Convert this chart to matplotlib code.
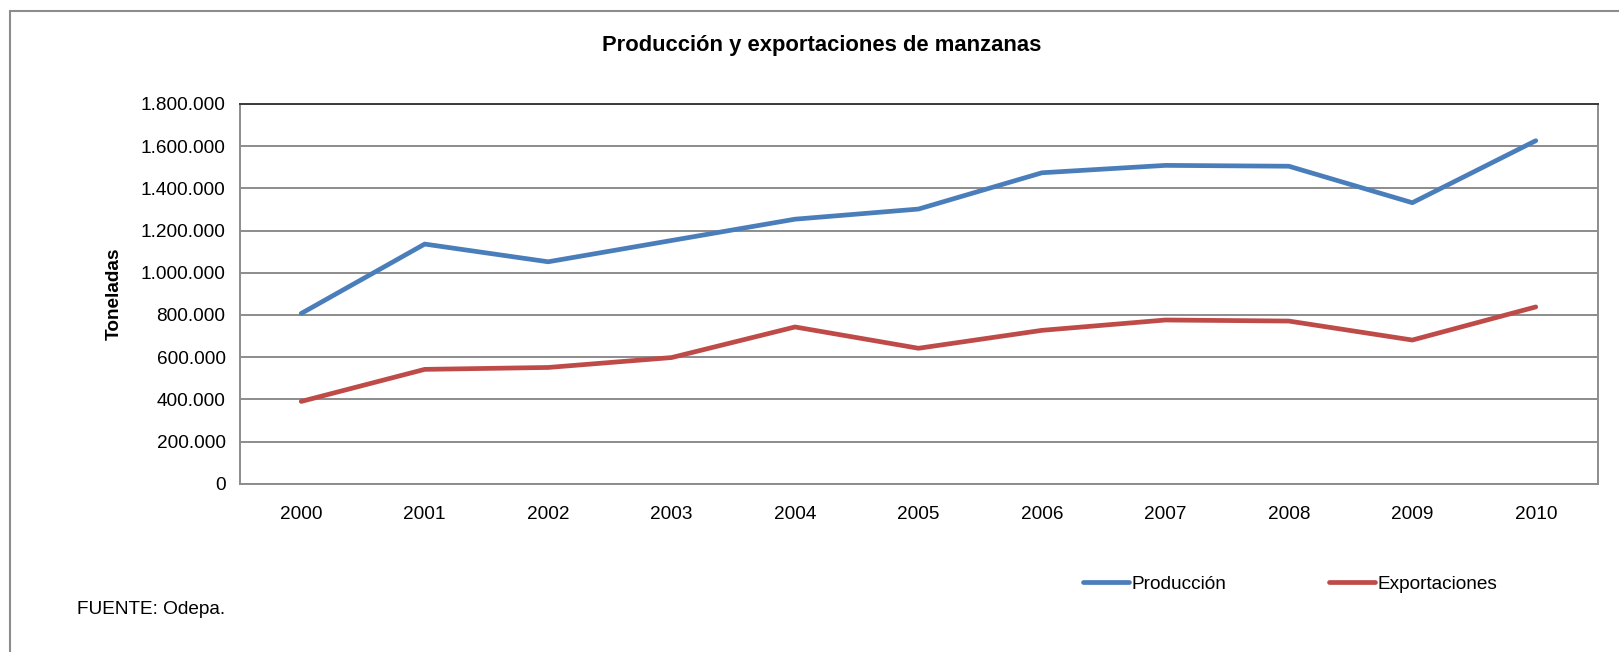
import matplotlib.pyplot as plt
from matplotlib.patches import Rectangle
from matplotlib.ticker import FuncFormatter

plt.rcParams['font.family'] = ['Liberation Sans', 'DejaVu Sans']

# datos (toneladas)
anios = ['2000', '2001', '2002', '2003', '2004', '2005', '2006', '2007', '2008', '2009', '2010']
produccion = [807000, 1136000, 1052000, 1153000, 1254000, 1302000, 1474000, 1509000, 1505000, 1332000, 1626000]
exportaciones = [390000, 542000, 551000, 598000, 743000, 642000, 727000, 776000, 771000, 681000, 838000]

W, H = 1619, 652
fs = 13.7
fig = plt.figure(figsize=(W / 100, H / 100), dpi=100)

# marco exterior del gráfico (se sale por la derecha y por abajo)
fig.add_artist(Rectangle((10 / W, -0.1), 1.2, 1.1 - 11 / H, transform=fig.transFigure,
                         fill=False, edgecolor='#8c8c8c', linewidth=1.5))

ax = fig.add_axes([239.5 / W, 1 - 483.7 / H, (1597.5 - 239.5) / W, (483.7 - 104) / H])
x = range(len(anios))
ax.plot(x, produccion, color='#4a7ebb', linewidth=3.4, solid_capstyle='round', label='Producción')
ax.plot(x, exportaciones, color='#be4b48', linewidth=3.4, solid_capstyle='round', label='Exportaciones')

ax.set_xlim(-0.5, len(anios) - 0.5)
ax.set_ylim(0, 1800000)
ax.set_yticks(range(0, 1800001, 200000))
ax.yaxis.set_major_formatter(FuncFormatter(lambda v, p: f"{int(v):,}".replace(',', '.')))
ax.set_xticks(list(x))
ax.set_xticklabels(anios)
ax.tick_params(axis='both', length=0, labelsize=fs, colors='black')
ax.tick_params(axis='x', pad=16)
ax.tick_params(axis='y', pad=10)
ax.grid(axis='y', color='#8c8c8c', linewidth=1.4)
ax.set_axisbelow(True)
for lado in ['left', 'bottom', 'right']:
    ax.spines[lado].set_color('#8c8c8c')
    ax.spines[lado].set_linewidth(1.4)
ax.spines['top'].set_color('#3a3a3a')
ax.spines['top'].set_linewidth(1.4)

ax.set_ylabel('Toneladas', fontsize=fs, fontweight='bold', labelpad=13)

fig.text(822 / W, 1 - 45 / H, 'Producción y exportaciones de manzanas',
         ha='center', va='center', fontsize=15.8, fontweight='bold')

fig.legend(loc='center left', bbox_to_anchor=(1066 / W, 1 - 584 / H), ncol=2, frameon=False,
           fontsize=fs, handlelength=2.4, handletextpad=0.15, columnspacing=5.4)

fig.text(77 / W, 1 - 609 / H, 'FUENTE: Odepa.', ha='left', va='center', fontsize=fs)

fig.savefig('out.png', dpi=100)
